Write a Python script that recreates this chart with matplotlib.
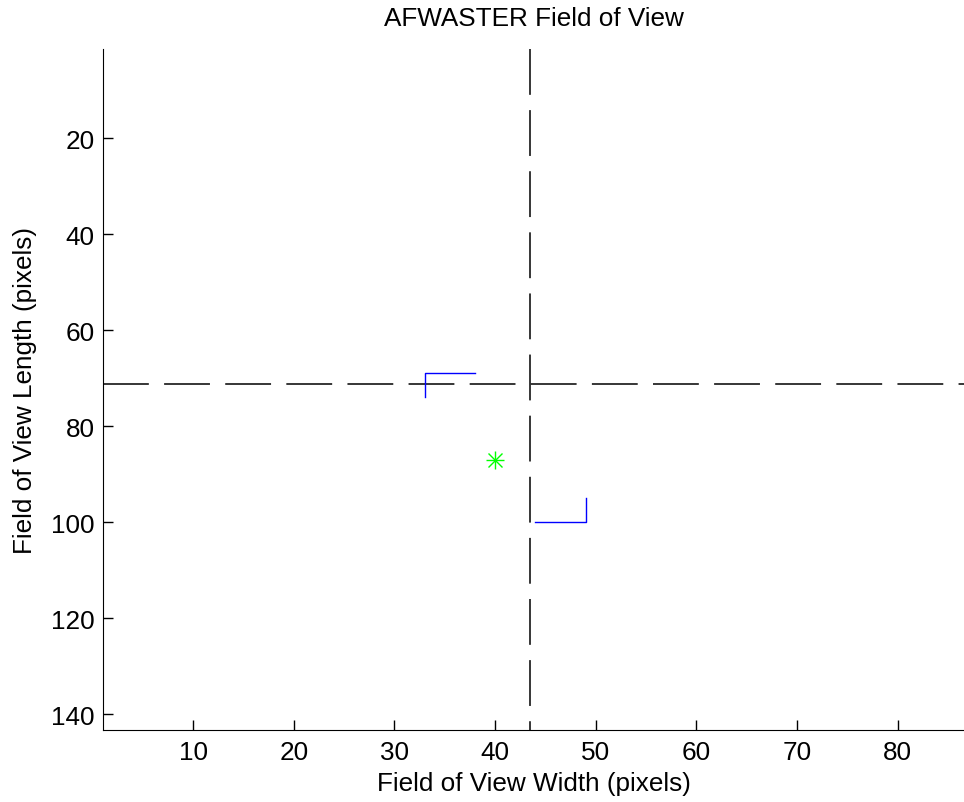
import matplotlib
matplotlib.use("Agg")
import matplotlib.pyplot as plt

plt.rcParams['font.family'] = ['Liberation Sans', 'DejaVu Sans']

# Data
corner1_x = [33, 33, 38]
corner1_y = [74, 69, 69]
corner2_x = [44, 49, 49]
corner2_y = [100, 100, 95]
center_x = [40]
center_y = [87]
cross_x = 43.5
cross_y = 71.3
xticks = [10, 20, 30, 40, 50, 60, 70, 80]
yticks = [20, 40, 60, 80, 100, 120, 140]
xlim = (1.05, 86.6)
ylim = (143.3, 1.45)

fig = plt.figure(figsize=(9.64, 8.03), dpi=100)
ax = fig.add_axes([103/964, 1 - 731/803, (964 - 103)/964, (731 - 50)/803])

ax.plot([cross_x, cross_x], [ylim[1], ylim[0]], color='black', lw=1.1, dashes=(30, 10))
ax.plot([xlim[0], xlim[1]], [cross_y, cross_y], color='black', lw=1.1, dashes=(30, 10))
ax.plot(corner1_x, corner1_y, color='#0000ff', lw=1.0)
ax.plot(corner2_x, corner2_y, color='#0000ff', lw=1.0)
ax.plot(center_x, center_y, linestyle='none', marker='+', ms=13, mew=1.0, color='#00ff00')
ax.plot(center_x, center_y, linestyle='none', marker='x', ms=10, mew=1.0, color='#00ff00')

ax.set_xlim(*xlim)
ax.set_ylim(*ylim)
ax.set_xticks(xticks)
ax.set_yticks(yticks)
ax.tick_params(direction='in', length=7, width=1, labelsize=18.8)
ax.tick_params(axis='x', pad=7)
ax.tick_params(axis='y', pad=6)
ax.spines['top'].set_visible(False)
ax.spines['right'].set_visible(False)
ax.set_title('AFWASTER Field of View', fontsize=18.8, pad=17)
ax.set_xlabel('Field of View Width (pixels)', fontsize=18.8, labelpad=5)
ax.set_ylabel('Field of View Length (pixels)', fontsize=18.8, labelpad=10)

fig.savefig('out.png', dpi=100)
